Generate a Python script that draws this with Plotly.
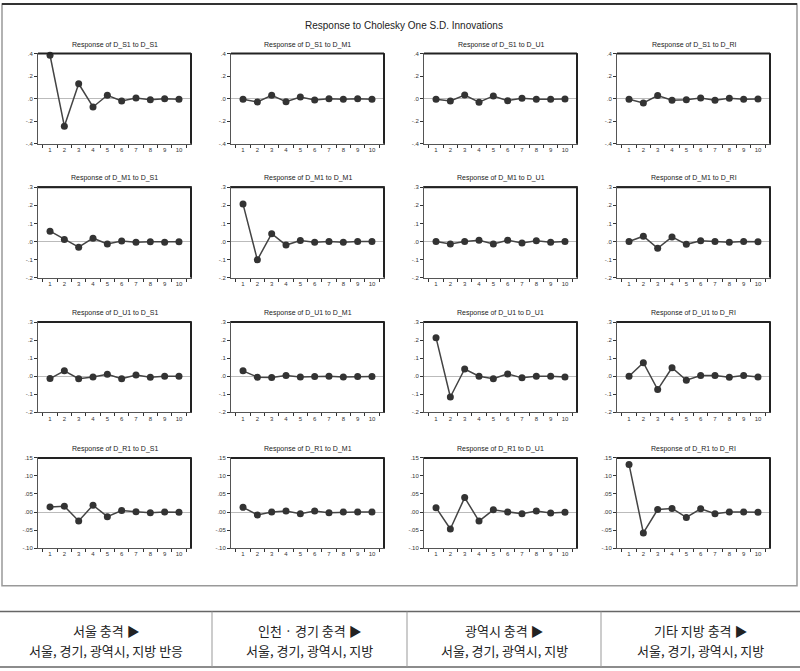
import plotly.graph_objects as go
from plotly.subplots import make_subplots

periods = ["1", "2", "3", "4", "5", "6", "7", "8", "9", "10"]

variables = ["D_S1", "D_M1", "D_U1", "D_R1"]
shock_labels = ["D_S1", "D_M1", "D_U1", "D_RI"]

# responses[row][col]: response of variables[row] to shock_labels[col]
s1_to_s1 = [0.385, -0.244, 0.132, -0.074, 0.030, -0.020, 0.005, -0.010, 0.000, -0.005]
s1_to_m1 = [-0.005, -0.030, 0.030, -0.027, 0.015, -0.012, 0.000, -0.005, 0.000, -0.005]
s1_to_u1 = [-0.005, -0.020, 0.032, -0.032, 0.024, -0.018, 0.003, -0.005, -0.005, -0.003]
s1_to_r1 = [-0.005, -0.038, 0.027, -0.015, -0.009, 0.006, -0.015, 0.003, -0.006, -0.003]

m1_to_s1 = [0.057, 0.011, -0.032, 0.018, -0.014, 0.002, -0.005, -0.002, -0.004, -0.002]
m1_to_m1 = [0.207, -0.102, 0.043, -0.020, 0.005, -0.004, 0.000, -0.004, 0.000, 0.000]
m1_to_u1 = [0.000, -0.014, 0.000, 0.007, -0.014, 0.007, -0.009, 0.004, -0.004, 0.000]
m1_to_r1 = [0.000, 0.029, -0.038, 0.025, -0.016, 0.004, 0.000, -0.004, 0.000, -0.002]

u1_to_s1 = [-0.013, 0.030, -0.014, -0.004, 0.011, -0.014, 0.007, -0.005, 0.000, 0.000]
u1_to_m1 = [0.030, -0.005, -0.007, 0.004, -0.004, -0.002, 0.000, -0.004, -0.002, -0.002]
u1_to_u1 = [0.214, -0.115, 0.040, 0.000, -0.014, 0.013, -0.009, 0.000, 0.000, -0.004]
u1_to_r1 = [0.000, 0.075, -0.074, 0.047, -0.022, 0.004, 0.004, -0.005, 0.004, -0.004]

r1_to_s1 = [0.014, 0.016, -0.025, 0.019, -0.013, 0.004, 0.001, -0.002, 0.000, -0.001]
r1_to_m1 = [0.013, -0.008, 0.000, 0.003, -0.005, 0.003, -0.002, 0.000, 0.000, 0.000]
r1_to_u1 = [0.012, -0.047, 0.040, -0.025, 0.006, 0.000, -0.005, 0.003, -0.003, -0.001]
r1_to_r1 = [0.132, -0.058, 0.007, 0.010, -0.015, 0.009, -0.005, 0.000, 0.000, -0.001]

responses = [
    [s1_to_s1, s1_to_m1, s1_to_u1, s1_to_r1],
    [m1_to_s1, m1_to_m1, m1_to_u1, m1_to_r1],
    [u1_to_s1, u1_to_m1, u1_to_u1, u1_to_r1],
    [r1_to_s1, r1_to_m1, r1_to_u1, r1_to_r1],
]

row_ranges = [[-0.4, 0.4], [-0.2, 0.3], [-0.2, 0.3], [-0.10, 0.15]]
row_tickvals = [
    [-0.4, -0.2, 0.0, 0.2, 0.4],
    [-0.2, -0.1, 0.0, 0.1, 0.2, 0.3],
    [-0.2, -0.1, 0.0, 0.1, 0.2, 0.3],
    [-0.10, -0.05, 0.0, 0.05, 0.10, 0.15],
]
row_ticktext = [
    ["-.4", "-.2", ".0", ".2", ".4"],
    ["-.2", "-.1", ".0", ".1", ".2", ".3"],
    ["-.2", "-.1", ".0", ".1", ".2", ".3"],
    ["-.10", "-.05", ".00", ".05", ".10", ".15"],
]

main_title = "Response to Cholesky One S.D. Innovations"
table_head = ["서울 충격 ▶", "인천 · 경기 충격 ▶", "광역시 충격 ▶", "기타 지방 충격 ▶"]
table_body = ["서울, 경기, 광역시, 지방 반응", "서울, 경기, 광역시, 지방",
              "서울, 경기, 광역시, 지방", "서울, 경기, 광역시, 지방"]

W, H = 800, 671


def px(x):
    return x / W


def py(y):
    return 1 - y / H


col_left = [38, 231, 424, 617]
plot_w = 153
row_top = [51, 186, 322, 459]
plot_h = 91

fig = make_subplots(rows=4, cols=4)

FONT = "Liberation Sans, Arial, sans-serif"
annotations = []
shapes = []

for r in range(4):
    for c in range(4):
        idx = r * 4 + c + 1
        fig.add_trace(
            go.Scatter(
                x=periods, y=responses[r][c], mode="lines+markers",
                line=dict(color="#444444", width=1.5),
                marker=dict(color="#333333", size=7),
                cliponaxis=False, showlegend=False,
            ),
            row=r + 1, col=c + 1,
        )
        xd = [px(col_left[c]), px(col_left[c] + plot_w)]
        yd = [py(row_top[r] + plot_h), py(row_top[r])]
        xname = "xaxis" if idx == 1 else f"xaxis{idx}"
        yname = "yaxis" if idx == 1 else f"yaxis{idx}"
        fig.layout[xname].update(
            domain=xd, type="category", tickson="boundaries", tickangle=0,
            ticks="outside", ticklen=3, tickcolor="#333", tickwidth=1,
            showline=True, linecolor="#555", linewidth=1, mirror=True,
            showgrid=False, zeroline=False,
            tickfont=dict(size=6, color="#333", family=FONT),
        )
        fig.layout[yname].update(
            domain=yd, range=row_ranges[r],
            tickvals=row_tickvals[r], ticktext=row_ticktext[r],
            ticks="outside", ticklen=3, tickcolor="#333", tickwidth=1,
            showline=True, linecolor="#555", linewidth=1, mirror=True,
            showgrid=False, zeroline=True, zerolinecolor="#bbbbbb", zerolinewidth=1,
            tickfont=dict(size=6, color="#333", family=FONT),
        )
        xr = "x" if idx == 1 else f"x{idx}"
        yr = "y" if idx == 1 else f"y{idx}"
        # darker top and right frame edges
        shapes.append(dict(type="line", xref=f"{xr} domain", yref=f"{yr} domain",
                           x0=0, x1=1, y0=1, y1=1, line=dict(color="#222", width=2)))
        shapes.append(dict(type="line", xref=f"{xr} domain", yref=f"{yr} domain",
                           x0=1, x1=1, y0=0, y1=1, line=dict(color="#222", width=2)))
        annotations.append(dict(
            text=f"Response of {variables[r]} to {shock_labels[c]}",
            x=px(col_left[c] + plot_w / 2), y=py(row_top[r] - 9),
            xref="paper", yref="paper", showarrow=False,
            xanchor="center", yanchor="middle",
            font=dict(size=7, color="#222", family=FONT),
        ))

annotations.append(dict(
    text=main_title, x=px(404), y=py(23), xref="paper", yref="paper",
    showarrow=False, xanchor="center", yanchor="middle",
    font=dict(size=10, color="#222", family=FONT),
))

# outer chart box
shapes.append(dict(type="rect", xref="paper", yref="paper",
                   x0=px(2), x1=px(797), y0=py(588), y1=py(1),
                   line=dict(color="#999", width=1.5)))
shapes.append(dict(type="line", xref="paper", yref="paper",
                   x0=px(2), x1=px(797), y0=py(1), y1=py(1),
                   line=dict(color="#333", width=2)))

# table
shapes.append(dict(type="line", xref="paper", yref="paper",
                   x0=0, x1=1, y0=py(614), y1=py(614),
                   line=dict(color="#666", width=1.5)))
shapes.append(dict(type="line", xref="paper", yref="paper",
                   x0=0, x1=1, y0=py(670), y1=py(670),
                   line=dict(color="#666", width=1.5)))
dividers = [212, 407, 601]
for d in dividers:
    shapes.append(dict(type="line", xref="paper", yref="paper",
                       x0=px(d), x1=px(d), y0=py(670), y1=py(614),
                       line=dict(color="#999", width=1)))
cell_edges = [0, 212, 407, 601, 800]
for i in range(4):
    cx = (cell_edges[i] + cell_edges[i + 1]) / 2
    annotations.append(dict(
        text=table_head[i], x=px(cx), y=py(633), xref="paper", yref="paper",
        showarrow=False, xanchor="center", yanchor="middle",
        font=dict(size=13, color="#222", family="Noto Sans CJK KR"),
    ))
    annotations.append(dict(
        text=table_body[i], x=px(cx), y=py(653), xref="paper", yref="paper",
        showarrow=False, xanchor="center", yanchor="middle",
        font=dict(size=13, color="#222", family="Noto Sans CJK KR"),
    ))

fig.update_layout(
    width=W, height=H, margin=dict(l=0, r=0, t=0, b=0),
    paper_bgcolor="white", plot_bgcolor="white",
    annotations=annotations, shapes=shapes, showlegend=False,
)

fig.write_html(
    "out.html",
    config={"displayModeBar": False},
    post_script="document.body.style.margin='0';document.body.style.padding='0';",
)
